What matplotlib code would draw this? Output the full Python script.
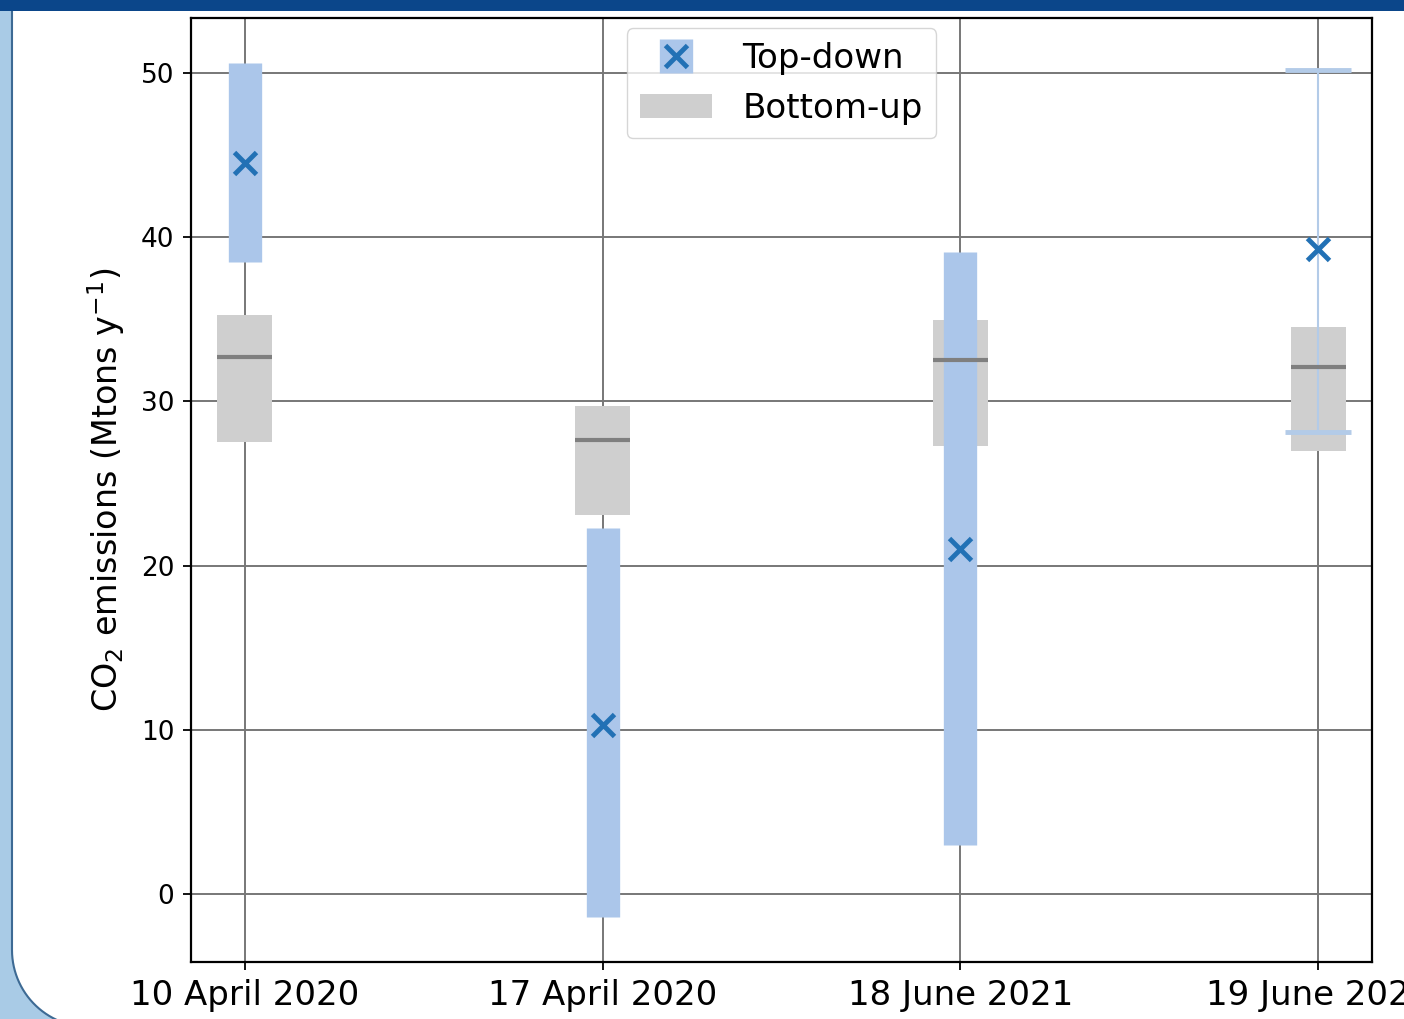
import matplotlib
matplotlib.use("Agg")
import matplotlib.pyplot as plt
from matplotlib.patches import Rectangle, PathPatch
from matplotlib.path import Path
from matplotlib.transforms import IdentityTransform
import numpy as np

# Observation dates
dates = ['10 April 2020', '17 April 2020', '18 June 2021', '19 June 2021']

# Top-down estimates with their uncertainty range
td_value = [44.5, 10.3, 21.0, 39.3]
td_low = [38.5, -1.4, 3.0, 28.15]
td_high = [50.6, 22.3, 39.1, 50.2]

# Bottom-up inventory range and central value
bu_low = [27.5, 23.1, 27.25, 27.0]
bu_high = [35.25, 29.7, 34.95, 34.5]
bu_median = [32.7, 27.65, 32.5, 32.1]

x = np.arange(len(dates))
td_value = np.array(td_value)
yerr = np.array([td_value - np.array(td_low), np.array(td_high) - td_value])

W, H = 1404, 1019
fig = plt.figure(figsize=(W / 100, H / 100), dpi=100)
fig.patch.set_facecolor('#a9cbe6')

# white poster panel, only its lower-left corner is rounded
r, left, cy = 77, 12, 69
t = np.linspace(np.pi, 1.5 * np.pi, 30)
arc = np.column_stack([left + r + r * np.cos(t), cy + r * np.sin(t)])
verts = np.vstack([[left, H + 5], [left, cy], arc, [W + 10, cy - r],
                   [W + 10, H + 5], [left, H + 5]])
panel = PathPatch(Path(verts, closed=True), facecolor='white', edgecolor='#3d6a94',
                  linewidth=1.5, transform=IdentityTransform(), zorder=0)
fig.add_artist(panel)
fig.add_artist(Rectangle((0, H - 11), W, 11, facecolor='#0b468a',
                         edgecolor='none', transform=IdentityTransform(), zorder=1))

ax = fig.add_axes([191 / W, 1 - 962 / H, (1372 - 191) / W, (962 - 18) / H])

ax.grid(True, color='#777777', linewidth=1.4, zorder=0)
ax.set_axisbelow(True)

# bottom-up boxes with median line
ax.bar(x, np.array(bu_high) - np.array(bu_low), bottom=bu_low, width=0.155,
       color='#cfcfcf', zorder=2, label='Bottom-up')
ax.hlines(bu_median, x - 0.0775, x + 0.0775, color='#7f7f7f', linewidth=3, zorder=4)

# top-down estimates: thick bars for the first three dates
td = ax.errorbar(x[:3], td_value[:3], yerr=yerr[:, :3], fmt='x', color='#2271b5',
                 ms=16, mew=3.5, ecolor='#abc6ea', elinewidth=24, capsize=0,
                 zorder=3, label='Top-down')
# last date drawn as a thin bar with caps
ax.errorbar(x[3:], td_value[3:], yerr=yerr[:, 3:], fmt='x', color='#2271b5',
            ms=16, mew=3.5, ecolor='#b3cbe8', elinewidth=1.5, capsize=24,
            capthick=3, zorder=3)

ax.set_xlim(-0.15, 3.15)
ax.set_ylim(-4.15, 53.35)
ax.set_yticks([0, 10, 20, 30, 40, 50])
ax.set_xticks(x)
ax.set_xticklabels(dates, fontsize=24.5)
ax.tick_params(axis='y', labelsize=19, length=6, width=1.3, pad=6)
ax.tick_params(axis='x', length=6, width=1.3, pad=6)
ax.set_ylabel('CO$_2$ emissions (Mtons y$^{-1}$)', fontsize=24, labelpad=10)
for s in ax.spines.values():
    s.set_linewidth(1.6)

ax.legend(handles=[td, ax.containers[0]], labels=['Top-down', 'Bottom-up'],
          loc='upper center', fontsize=24.5, handlelength=2.1,
          borderaxespad=0.3, handletextpad=0.9)

fig.savefig('out.png', dpi=100)
